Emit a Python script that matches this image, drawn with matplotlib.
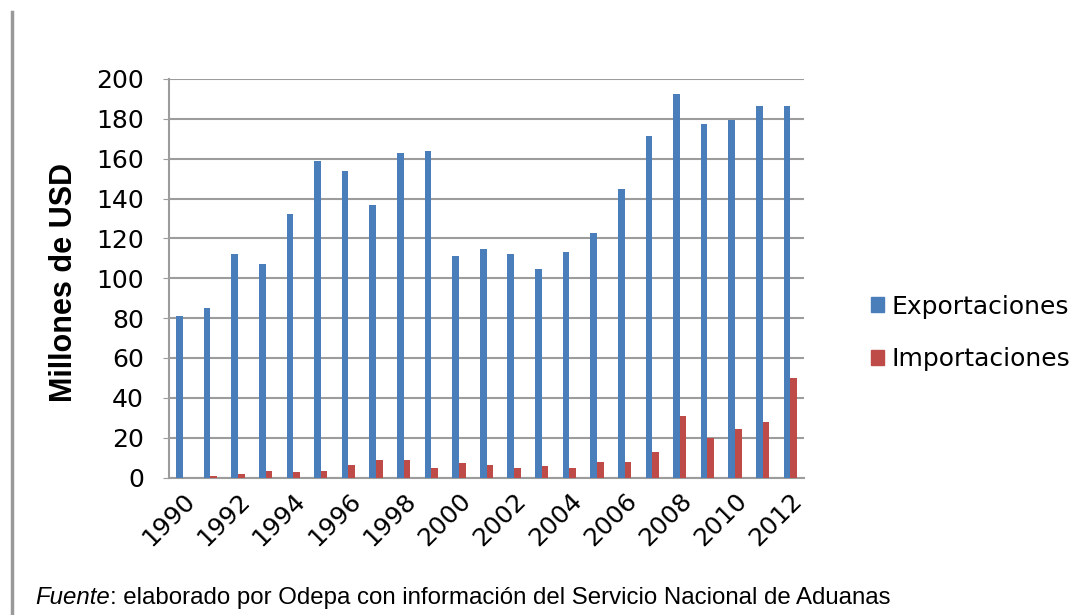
import numpy as np
import matplotlib
matplotlib.use("Agg")
import matplotlib.pyplot as plt
from matplotlib.patches import Patch

years = list(range(1990, 2013))
exportaciones = [81, 85, 112, 107, 132, 159, 154, 137, 163, 164, 111, 114.5, 112, 104.5,
                 113, 122.5, 145, 171.5, 192.5, 177.5, 179.5, 186.5, 186.5]
importaciones = [0, 1, 1.6, 3.3, 2.6, 3.3, 6.5, 9, 9, 5, 7.2, 6.5, 5, 5.7,
                 5, 8, 8, 12.7, 31, 20, 24.5, 28, 50]

c_exp = '#4a7ebb'
c_imp = '#be4b48'
grid_c = '#9c9c9c'

plt.rcParams['font.family'] = ['DejaVu Sans']

fig = plt.figure(figsize=(10.85, 6.15), dpi=100)
ax = fig.add_axes([169/1085, 1-477.5/615, 635/1085, 398.5/615])

x = np.arange(len(years))
w = 0.24
ax.bar(x - w/2, exportaciones, w, color=c_exp, zorder=3)
ax.bar(x + w/2, importaciones, w, color=c_imp, zorder=3)

ax.set_xlim(-0.5, len(years) - 0.5)
ax.set_ylim(0, 200)
ax.set_yticks(range(0, 201, 20))
ax.grid(axis='y', color=grid_c, linewidth=1.5, zorder=0)
ax.set_axisbelow(True)
for s in ['top', 'right']:
    ax.spines[s].set_visible(False)
ax.spines['left'].set_color(grid_c)
ax.spines['bottom'].set_color(grid_c)
ax.spines['left'].set_linewidth(1.5)
ax.spines['bottom'].set_linewidth(1.5)

ax.set_xticks(x[::2])
ax.set_xticklabels([str(y) for y in years[::2]], rotation=45, ha='right',
                   rotation_mode='anchor', fontsize=18)
ax.tick_params(axis='x', length=0, pad=8)
ax.tick_params(axis='y', labelsize=18, length=4, color=grid_c, pad=14)

ax.set_ylabel('Millones de USD', fontsize=22, fontweight='bold',
              family='Liberation Sans')
ax.yaxis.set_label_coords(-0.141, 0.49)

handles = [Patch(color=c_exp, label='Exportaciones'), Patch(color=c_imp, label='Importaciones')]
fig.legend(handles=handles, loc='center left', bbox_to_anchor=(848/1085, 1-333/615),
           frameon=False, fontsize=18, handlelength=0.55, handleheight=0.55,
           handletextpad=0.3, labelspacing=1.15)

# borde izquierdo de la página
fig.add_artist(plt.Line2D([12/1085, 12/1085], [0, 1-12/615], color='#999999', linewidth=2.5))

t1 = fig.text(35/1085, 1-604/615, 'Fuente', fontsize=17.3, style='italic',
              family='Liberation Sans', va='baseline')
ax.annotate(': elaborado por Odepa con información del Servicio Nacional de Aduanas',
            xy=(1, 0), xycoords=t1, va='bottom', fontsize=17.3, family='Liberation Sans')

fig.savefig('out.png', dpi=100)
